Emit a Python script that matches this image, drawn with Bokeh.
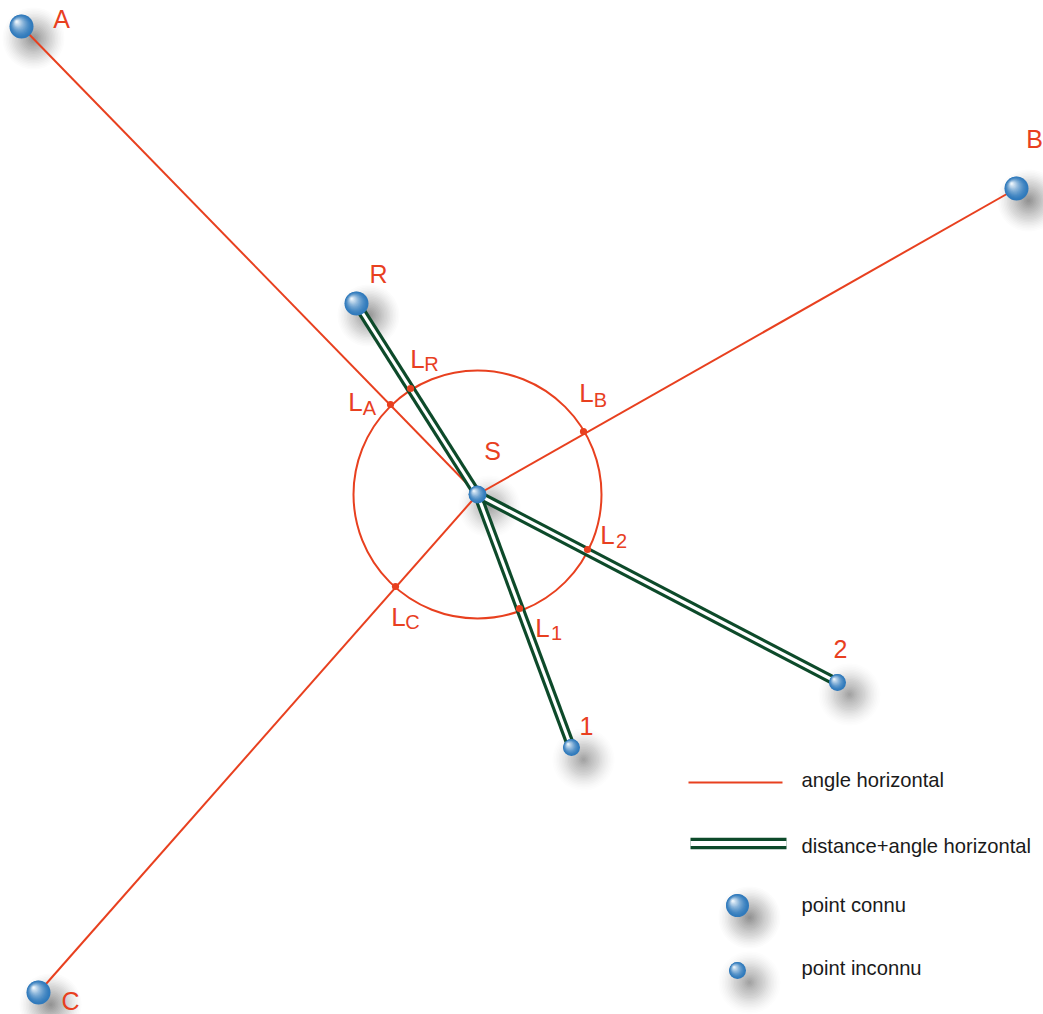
from bokeh.plotting import figure
from bokeh.models import Range1d
from bokeh.core.properties import value
from bokeh.embed import file_html
from bokeh.resources import INLINE

RED = "#e8401f"
GREEN = "#0d4a2a"
FONT = "Liberation Sans"

# Stations (x, y)
station_x = [477]
station_y = [494]
known_names = ["A", "B", "C", "R"]
known_x = [21, 1016, 38, 356]
known_y = [26, 188, 992, 303]
unknown_names = ["S", "1", "2"]
unknown_x = [477, 571, 837]
unknown_y = [494, 747, 682]

# Horizon circle
circle_radius = 124

# Intersections of sights with the circle
inter_x = [390, 410, 583, 587, 519, 395]
inter_y = [404, 388, 431, 549, 608, 586]

# Labels
label_text = ["A", "B", "C", "R", "S", "1", "2"]
label_x = [61, 1034, 70, 378, 492, 586, 840]
label_y = [18, 138, 1000, 273, 450, 725, 648]

sub_main_x = [355, 417, 586, 607, 542, 398]
sub_main_y = [401, 358, 392, 534, 627, 616]
sub_text = ["A", "R", "B", "2", "1", "C"]
sub_x = [369, 431, 600, 621, 556, 412]
sub_y = [407, 363, 399, 540, 632, 621]

# Legend
legend_labels = ["angle horizontal", "distance+angle horizontal", "point connu", "point inconnu"]
legend_text_x = [801, 801, 801, 801]
legend_text_y = [779, 845, 904, 967]
legend_line_x = [688, 782]
legend_line_y = [782, 782]
legend_dbl_x = [690, 786]
legend_dbl_y = [843, 843]
legend_known = (737, 905)
legend_unknown = (737, 970)

p = figure(width=1043, height=1014, x_range=Range1d(0, 1043), y_range=Range1d(1014, 0),
           output_backend="svg", toolbar_location=None, min_border=0)
p.axis.visible = False
p.grid.visible = False
p.outline_line_color = None
p.background_fill_color = "white"


def shadow(x, y, r, strength=0.055):
    n = 20
    R = 31
    for i in range(n):
        rad = R * (1 - i / n)
        p.circle([x + 12], [y + 12], radius=rad, fill_color="#333333",
                 fill_alpha=strength * (0.25 + 0.75 * i / n), line_color=None)


def sphere(x, y, r):
    n = 18
    c0 = (48, 122, 188)
    c1 = (238, 246, 252)
    for i in range(n):
        t = i / (n - 1)
        rad = r * (1 - 0.92 * t)
        cx = x - 0.4 * r * t
        cy = y - 0.4 * r * t
        col = tuple(int(a + (b - a) * t ** 1.5) for a, b in zip(c0, c1))
        p.circle([cx], [cy], radius=rad, fill_color="#%02x%02x%02x" % col, line_color=None)


known_r = 12
unknown_r = 8.5

for x, y in zip(known_x, known_y):
    shadow(x, y, known_r)
for x, y in zip(unknown_x, unknown_y):
    shadow(x, y, unknown_r, 0.045)
shadow(legend_known[0], legend_known[1], 11.5)
shadow(legend_unknown[0], legend_unknown[1], unknown_r, 0.045)

# Red sights A, B, C to S
for x, y in zip(known_x[:3], known_y[:3]):
    p.line([x, station_x[0]], [y, station_y[0]], line_color=RED, line_width=2)
p.circle(station_x, station_y, radius=circle_radius, fill_color=None, line_color=RED, line_width=2)

# Green double lines
dbl_x = [known_x[3], unknown_x[1], unknown_x[2]]
dbl_y = [known_y[3], unknown_y[1], unknown_y[2]]
for x, y in zip(dbl_x, dbl_y):
    p.line([x, station_x[0]], [y, station_y[0]], line_color=GREEN, line_width=9.5)
    p.line([x, station_x[0]], [y, station_y[0]], line_color="white", line_width=3.2)

# Intersections
p.circle(inter_x, inter_y, radius=3.6, fill_color=RED, line_color=None)

# Spheres
for x, y in zip(known_x, known_y):
    sphere(x, y, known_r)
for i, (x, y) in enumerate(zip(unknown_x, unknown_y)):
    sphere(x, y, 9 if i == 0 else unknown_r)

# Labels
p.text(label_x, label_y, text=label_text, text_color=RED, text_font=value(FONT),
       text_font_size="25px", text_align="center", text_baseline="middle")
p.text(sub_main_x, sub_main_y, text=["L"] * 6, text_color=RED, text_font=value(FONT),
       text_font_size="26px", text_align="center", text_baseline="middle")
p.text(sub_x, sub_y, text=sub_text, text_color=RED, text_font=value(FONT),
       text_font_size="20px", text_align="center", text_baseline="middle")

# Legend
p.line(legend_line_x, legend_line_y, line_color=RED, line_width=2)
p.line(legend_dbl_x, legend_dbl_y, line_color=GREEN, line_width=11.5)
p.line(legend_dbl_x, legend_dbl_y, line_color="white", line_width=5)
sphere(legend_known[0], legend_known[1], 11.5)
sphere(legend_unknown[0], legend_unknown[1], unknown_r)
p.text(legend_text_x, legend_text_y, text=legend_labels, text_color="#1a1a1a", text_font=value(FONT),
       text_font_size="20.2px", text_align="left", text_baseline="middle")

open("out.html", "w").write(file_html(p, INLINE))
